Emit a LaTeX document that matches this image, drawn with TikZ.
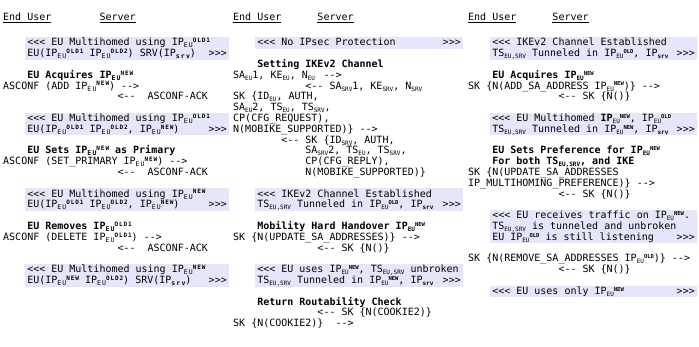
\documentclass[tikz,border=0pt]{standalone}
\usepackage{fontspec}
\setmonofont{DejaVu Sans Mono}
\frenchspacing
\definecolor{bgc}{RGB}{230,230,250}
\newcommand\fs{\ttfamily\fontsize{10}{10}\selectfont}
% small scripts (columns 2 and 3)
\newcommand\dn[1]{\raisebox{-0.35ex}{\fontsize{6}{6}\selectfont #1}}
\newcommand\up[1]{\raisebox{0.6ex}{\fontsize{5.5}{5.5}\selectfont\bfseries #1}}
% wider scripts (column 1)
\newcommand\dna[1]{\raisebox{-0.35ex}{\fontsize{6.5}{6.5}\selectfont\addfontfeature{LetterSpace=18}#1}}
\newcommand\upa[1]{\raisebox{0.6ex}{\fontsize{6}{6}\selectfont\bfseries\addfontfeature{LetterSpace=15}#1}}
\newcommand\IPeu[1]{IP\dn{EU}\up{#1}}
\newcommand\IPa[1]{IP\dna{EU}\upa{#1}}
\newcommand\srv{IP\dn{\bfseries srv}}
\newcommand\srva{IP\dna{\bfseries srv}}
\newcommand\cw{6.02}
\newcommand\lh{10.8}
\newcommand\txl[5]{\node[txt] (#1) at ({#2+#3*\cw},{46+#4*\lh}) {#5};}
\newcommand\bgb[4]{\fill[bgc] ({#1+4*\cw-2},{46+#2*\lh-8.8}) rectangle (#3,{46+#4*\lh+3});}
\newcommand\rgt[3]{\node[txt,anchor=base east] (#1) at ({#2-2},{46+#3*\lh}) {>{}>{}>};}
\begin{document}
\begin{tikzpicture}[x=1pt,y=-1pt,txt/.style={anchor=base west,inner sep=0pt,font=\fs}]
\useasboundingbox (0,0) rectangle (699,347);
\def\xa{3}\def\xb{233}\def\xc{468}
\def\ra{229}\def\rb{463}\def\rc{697}
% ---------- boxes
\bgb{\xa}{0}{\ra}{1}
\bgb{\xa}{7}{\ra}{8}
\bgb{\xa}{14}{\ra}{15}
\bgb{\xa}{21}{\ra}{22}
\bgb{\xb}{0}{\rb}{0}
\bgb{\xb}{14}{\rb}{15}
\bgb{\xb}{21}{\rb}{22}
\bgb{\xc}{0}{\rc}{1}
\bgb{\xc}{7}{\rc}{8}
\bgb{\xc}{16}{\rc}{18}
\bgb{\xc}{23}{\rc}{23}
% ---------- column 1
\node[txt] (h1a) at (\xa,21) {\underline{End User}};
\node[txt] (h1b) at ({\xa+16*\cw},21) {\underline{Server}};
\txl{a0}{\xa}{4}{0}{<<< EU Multihomed using \IPa{OLD1}}
\txl{a1}{\xa}{4}{1}{EU(\IPa{OLD1} \IPa{OLD2}) SRV(\srva)}
\rgt{a1r}{\ra}{1}
\txl{a3}{\xa}{4}{3}{\bfseries EU Acquires \IPa{NEW}}
\txl{a4}{\xa}{0}{4}{ASCONF (ADD \IPa{NEW}) -->}
\txl{a5}{\xa}{19}{5}{<--}
\txl{a5b}{\xa}{24}{5}{ASCONF-ACK}
\txl{a7}{\xa}{4}{7}{<<< EU Multihomed using \IPa{OLD1}}
\txl{a8}{\xa}{4}{8}{EU(\IPa{OLD1} \IPa{OLD2}, \IPa{NEW})}
\rgt{a8r}{\ra}{8}
\txl{a10}{\xa}{4}{10}{\bfseries EU Sets \IPa{NEW} as Primary}
\txl{a11}{\xa}{0}{11}{ASCONF (SET\_PRIMARY \IPa{NEW}) -->}
\txl{a12}{\xa}{19}{12}{<--}
\txl{a12b}{\xa}{24}{12}{ASCONF-ACK}
\txl{a14}{\xa}{4}{14}{<<< EU Multihomed using \IPa{NEW}}
\txl{a15}{\xa}{4}{15}{EU(\IPa{OLD1} \IPa{OLD2}, \IPa{NEW})}
\rgt{a15r}{\ra}{15}
\txl{a17}{\xa}{4}{17}{\bfseries EU Removes \IPa{OLD1}}
\txl{a18}{\xa}{0}{18}{ASCONF (DELETE \IPa{OLD1}) -->}
\txl{a19}{\xa}{19}{19}{<--}
\txl{a19b}{\xa}{24}{19}{ASCONF-ACK}
\txl{a21}{\xa}{4}{21}{<<< EU Multihomed using \IPa{NEW}}
\txl{a22}{\xa}{4}{22}{EU(\IPa{NEW} \IPa{OLD2}) SRV(\srva)}
\rgt{a22r}{\ra}{22}
% ---------- column 2
\node[txt] (h2a) at (\xb,21) {\underline{End User}};
\node[txt] (h2b) at ({\xb+14*\cw},21) {\underline{Server}};
\txl{b0}{\xb}{4}{0}{<<< No IPsec Protection}
\rgt{b0r}{\rb}{0}
\txl{b2}{\xb}{4}{2}{\bfseries Setting IKEv2 Channel}
\txl{b3}{\xb}{0}{3}{SA\dn{EU}1, KE\dn{EU}, N\dn{EU}}
\txl{b3b}{\xb}{15}{3}{-->}
\txl{b4}{\xb}{12}{4}{<--}
\txl{b4b}{\xb}{16}{4}{SA\dn{SRV}1, KE\dn{SRV}, N\dn{SRV}}
\txl{b5}{\xb}{0}{5}{SK \{ID\dn{EU}, AUTH,}
\txl{b6}{\xb}{0}{6}{SA\dn{EU}2, TS\dn{EU}, TS\dn{SRV},}
\txl{b7}{\xb}{0}{7}{CP(CFG\_REQUEST),}
\txl{b8}{\xb}{0}{8}{N(MOBIKE\_SUPPORTED)\} -->}
\txl{b9}{\xb}{8}{9}{<-- SK \{ID\dn{SRV}, AUTH,}
\txl{b10}{\xb}{12}{10}{SA\dn{SRV}2, TS\dn{EU}, TS\dn{SRV},}
\txl{b11}{\xb}{12}{11}{CP(CFG\_REPLY),}
\txl{b12}{\xb}{12}{12}{N(MOBIKE\_SUPPORTED)\}}
\txl{b14}{\xb}{4}{14}{<<< IKEv2 Channel Established}
\txl{b15}{\xb}{4}{15}{TS\dn{EU,SRV} Tunneled in \IPeu{OLD}, \srv}
\rgt{b15r}{\rb}{15}
\txl{b17}{\xb}{4}{17}{\bfseries Mobility Hard Handover \IPeu{NEW}}
\txl{b18}{\xb}{0}{18}{SK \{N(UPDATE\_SA\_ADDRESSES)\} -->}
\txl{b19}{\xb}{14}{19}{<-- SK \{N()\}}
\txl{b21}{\xb}{4}{21}{<<< EU uses \IPeu{NEW}, TS\dn{EU,SRV} unbroken}
\txl{b22}{\xb}{4}{22}{TS\dn{EU,SRV} Tunneled in \IPeu{NEW}, \srv}
\rgt{b22r}{\rb}{22}
\txl{b24}{\xb}{4}{24}{\bfseries Return Routability Check}
\txl{b25}{\xb}{14}{25}{<-- SK \{N(COOKIE2)\}}
\txl{b26}{\xb}{0}{26}{SK \{N(COOKIE2)\}}
\txl{b26b}{\xb}{17}{26}{-->}
% ---------- column 3
\node[txt] (h3a) at (\xc,21) {\underline{End User}};
\node[txt] (h3b) at ({\xc+14*\cw},21) {\underline{Server}};
\txl{c0}{\xc}{4}{0}{<<< IKEv2 Channel Established}
\txl{c1}{\xc}{4}{1}{TS\dn{EU,SRV} Tunneled in \IPeu{OLD}, \srv}
\rgt{c1r}{\rc}{1}
\txl{c3}{\xc}{4}{3}{\bfseries EU Acquires \IPeu{NEW}}
\txl{c4}{\xc}{0}{4}{SK \{N(ADD\_SA\_ADDRESS \IPeu{NEW})\} -->}
\txl{c5}{\xc}{15}{5}{<-- SK \{N()\}}
\txl{c7}{\xc}{4}{7}{<<< EU Multihomed \textbf{IP}\dn{EU}\up{NEW}, \IPeu{OLD}}
\txl{c8}{\xc}{4}{8}{TS\dn{EU,SRV} Tunneled in \IPeu{NEW}, \srv}
\rgt{c8r}{\rc}{8}
\txl{c10}{\xc}{4}{10}{\bfseries EU Sets Preference for \IPeu{NEW}}
\txl{c11}{\xc}{4}{11}{\bfseries For both TS\dn{EU,SRV}, and IKE}
\txl{c12}{\xc}{0}{12}{SK \{N(UPDATE\_SA\_ADDRESSES}
\txl{c13}{\xc}{0}{13}{IP\_MULTIHOMING\_PREFERENCE)\} -->}
\txl{c14}{\xc}{15}{14}{<-- SK \{N()\}}
\txl{c16}{\xc}{4}{16}{<<< EU receives traffic on \IPeu{NEW}.}
\txl{c17}{\xc}{4}{17}{TS\dn{EU,SRV} is tunneled and unbroken}
\txl{c18}{\xc}{4}{18}{EU \IPeu{OLD} is still listening}
\rgt{c18r}{\rc}{18}
\txl{c20}{\xc}{0}{20}{SK \{N(REMOVE\_SA\_ADDRESSES \IPeu{OLD})\} -->}
\txl{c21}{\xc}{15}{21}{<-- SK \{N()\}}
\txl{c23}{\xc}{4}{23}{<<< EU uses only \IPeu{NEW}}
\rgt{c23r}{\rc}{23}
\end{tikzpicture}
\end{document}
